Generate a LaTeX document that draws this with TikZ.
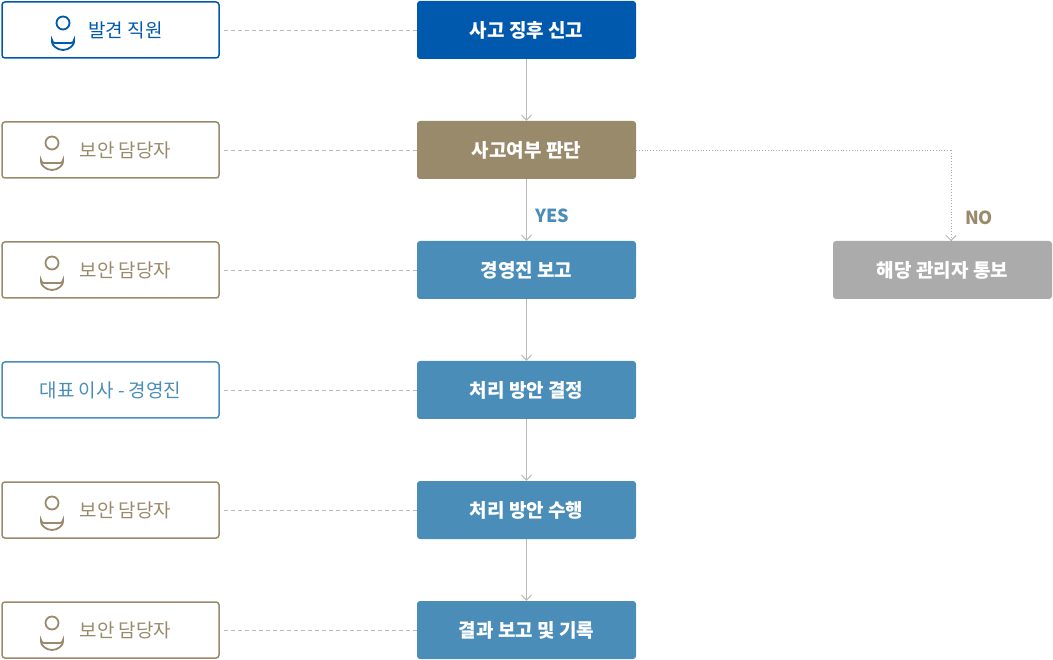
\documentclass[tikz,border=0pt]{standalone}
\usepackage{fontspec}
\setmainfont{Noto Sans CJK KR}
\usetikzlibrary{arrows.meta}
\definecolor{dblue}{HTML}{0059AC}
\definecolor{brown}{HTML}{9A8A6C}
\definecolor{sblue}{HTML}{4B8DB9}
\definecolor{gry}{HTML}{ABABAB}
\definecolor{lgry}{HTML}{BBBBBB}
\tikzset{
  cbox/.style={rounded corners=3pt, minimum width=219pt, minimum height=58pt, text=white, font=\fontsize{19}{22}\selectfont\bfseries, inner sep=0pt},
  lbox/.style={draw, line width=1.5pt, rounded corners=3pt, fill=white, minimum width=217pt, minimum height=56pt, font=\fontsize{19}{22}\selectfont, inner sep=0pt},
  dash line/.style={draw=lgry, dashed, dash pattern=on 4pt off 3pt, line width=0.8pt},
  arr/.style={draw=lgry, line width=1pt, -{Straight Barb[length=5pt,width=10pt]}},
}
\newcommand{\persicon}[2]{%
  \draw[#2, line width=1.8pt] (#1) ++(0,-7) circle (6.5);
  \draw[#2, line width=1.8pt, rounded corners=3pt] (#1) ++(-11,13) -- ++(0,-4) arc[start angle=180,end angle=0,radius=11] -- ++(0,4) -- cycle;
}
\begin{document}
\begin{tikzpicture}[x=1pt,y=-1pt]
\useasboundingbox (0,0) rectangle (1053,660);
% center
\node[cbox, fill=dblue] (c1) at (526.5,30) {사고 징후 신고};
\node[cbox, fill=brown] (c2) at (526.5,150) {사고여부 판단};
\node[cbox, fill=sblue] (c3) at (526.5,270) {경영진 보고};
\node[cbox, fill=sblue] (c4) at (526.5,390) {처리 방안 결정};
\node[cbox, fill=sblue] (c5) at (526.5,510) {처리 방안 수행};
\node[cbox, fill=sblue] (c6) at (526.5,630) {결과 보고 및 기록};
\node[cbox, fill=gry] (r) at (942.5,270) {해당 관리자 통보};
% left
\node[lbox, draw=dblue, text=dblue] (l1) at (110.5,30) {\hspace*{30pt}발견 직원};
\node[lbox, draw=brown, text=brown] (l2) at (110.5,150) {\hspace*{30pt}보안 담당자};
\node[lbox, draw=brown, text=brown] (l3) at (110.5,270) {\hspace*{30pt}보안 담당자};
\node[lbox, draw=sblue, text=sblue] (l4) at (110.5,390) {대표 이사 - 경영진};
\node[lbox, draw=brown, text=brown] (l5) at (110.5,510) {\hspace*{30pt}보안 담당자};
\node[lbox, draw=brown, text=brown] (l6) at (110.5,630) {\hspace*{30pt}보안 담당자};
\coordinate (i1) at (63,30); \persicon{i1}{dblue}
\coordinate (i2) at (52,150); \persicon{i2}{brown}
\coordinate (i3) at (52,270); \persicon{i3}{brown}
\coordinate (i5) at (52,510); \persicon{i5}{brown}
\coordinate (i6) at (52,630); \persicon{i6}{brown}
% dashed links
\foreach \i in {1,...,6} \draw[dash line] ([xshift=4pt]l\i.east) -- (c\i.west);
% arrows
\draw[arr] (c1) -- (c2);
\draw[arr] (c2) -- node[right=5pt, pos=0.6, text=sblue, font=\fontsize{18}{20}\selectfont\bfseries]{YES} (c3);
\draw[arr] (c3) -- (c4);
\draw[arr] (c4) -- (c5);
\draw[arr] (c5) -- (c6);
\coordinate (k) at (951,150);
\draw[draw=gry, line width=0.8pt, dotted] (c2.east) -- (k);
\draw[draw=gry, line width=0.8pt, dotted, -{Straight Barb[length=5pt,width=10pt]}] (k) -- (951,241);
\node[text=brown, font=\fontsize{18}{20}\selectfont\bfseries] (no) at (979,218) {NO};
\end{tikzpicture}
\end{document}
